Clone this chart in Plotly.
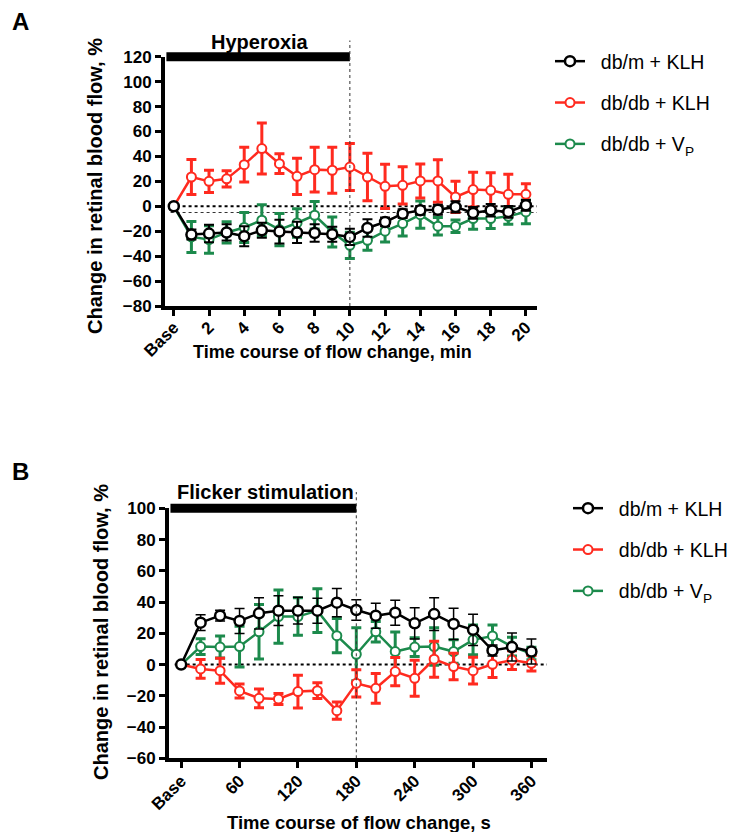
import plotly.graph_objects as go

# ---------------- Panel A data (minutes) ----------------
a_x = list(range(0, 21))
a_tickvals = list(range(0, 21, 2))
a_ticktext = ["Base"] + [str(v) for v in range(2, 21, 2)]

a_black = [0, -22.7, -21.9, -21, -24, -19.3, -20.3, -21, -21.4, -22.5, -24.6,
           -17.4, -12.6, -5.9, -3.2, -2.7, -0.5, -5.3, -3.2, -4.5, 0.8]
a_black_err = [0, 4, 7, 6.5, 8, 6, 9.5, 8.5, 7, 6, 6.5, 7, 3.5, 3.5, 3.5, 4, 4.5, 4.7, 5, 4.7, 4.3]

a_red = [0, 23.5, 20, 22, 33.4, 46.3, 34.2, 24, 29.4, 28.9, 31.5,
         23.5, 16, 16.8, 20.3, 20.3, 7.5, 13.4, 12.8, 9.6, 9.6]
a_red_err = [0, 14, 9, 6.5, 14, 20.5, 8, 14.6, 18, 18.5, 18.8,
             19, 17.7, 15, 13.6, 17, 12.5, 14, 14, 16, 8.5]

a_green = [0, -24.6, -26.7, -21, -17, -11.2, -18.7, -13.4, -7.2, -20.6, -31.3,
           -27.3, -20, -13.9, -6.7, -16, -16, -9.9, -9.9, -8, -4.5]
a_green_err = [0, 12.4, 11, 8.5, 12, 12.5, 13, 11.4, 11, 12, 10.5,
               8, 8.7, 10, 11, 7, 5, 8.5, 8, 6.5, 9.5]

# ---------------- Panel B data (seconds) ----------------
b_x = list(range(0, 361, 20))
b_tickvals = [0, 60, 120, 180, 240, 300, 360]
b_ticktext = ["Base", "60", "120", "180", "240", "300", "360"]

b_black = [0, 26.8, 31.3, 27.9, 32.8, 34.5, 34.5, 34.5, 39.6, 34.9,
           31.3, 33.2, 26.4, 32.3, 26, 22.2, 9, 11.2, 8.3]
b_black_err = [0, 5, 3.5, 8, 10, 9.5, 8.5, 8, 9, 6.5,
               8, 8, 10, 10.5, 10, 10, 3.5, 9, 8]

b_red = [0, -2.8, -3.9, -16.9, -21.6, -22, -17.3, -16.7, -29.5, -12,
         -15.2, -4.5, -8.8, 3.4, -1.3, -3.9, 0.2, 2.9, 0.8]
b_red_err = [0, 6, 8, 4.5, 6, 3.5, 10.5, 5, 5.5, 8.7,
             9.5, 9, 11.5, 11.5, 8.5, 8.5, 8.5, 6, 5]

b_green = [0, 11.5, 11.2, 11.5, 21, 30.7, 30.7, 34.5, 18.5, 6.6,
           21, 8.3, 11.2, 11.5, 8.3, 15.8, 18.3, 11.5, 7]
b_green_err = [0, 5, 7, 13, 17.5, 17, 12, 14, 11, 17,
               6.5, 12.5, 6, 12, 7.5, 9.5, 7, 6, 4]

names = ["&nbsp;&nbsp;db/m + KLH", "&nbsp;&nbsp;db/db + KLH", "&nbsp;&nbsp;db/db + V<sub>P</sub>"]
BLACK = "#000000"
RED = "#ff2a1f"
GREEN = "#1c8a4c"
FONT = "Liberation Sans, Arial, sans-serif"

# page body has an 8px margin; figure sized so the page fits the 742x840 window
OFF = 8
W, H = 742 - 2 * OFF, 840 - 2 * OFF


def X(px):
    return (px - OFF) / W


def Y(py):
    return 1 - (py - OFF) / H


fig = go.Figure()


def add_series(x, y, err, color, name, rank, xa, ya, legend, ethick, ewidth, msize, mline):
    fig.add_trace(go.Scatter(
        x=x, y=y, mode="lines+markers", name=name,
        line=dict(color=color, width=2.5),
        marker=dict(symbol="circle", size=msize, color="white",
                    line=dict(color=color, width=mline)),
        error_y=dict(type="data", array=err, visible=True, color=color,
                     thickness=ethick, width=ewidth),
        xaxis=xa, yaxis=ya, legend=legend, legendrank=rank,
        legendgroup=legend + name,
    ))


# Panel A
add_series(a_x, a_green, a_green_err, GREEN, names[2], 3, "x", "y", "legend", 3, 5, 9, 2)
add_series(a_x, a_red, a_red_err, RED, names[1], 2, "x", "y", "legend", 3, 5, 9, 2)
add_series(a_x, a_black, a_black_err, BLACK, names[0], 1, "x", "y", "legend", 2, 5, 10, 2.5)
# Panel B
add_series(b_x, b_green, b_green_err, GREEN, names[2], 3, "x2", "y2", "legend2", 3, 5, 9, 2)
add_series(b_x, b_red, b_red_err, RED, names[1], 2, "x2", "y2", "legend2", 3, 5, 9, 2)
add_series(b_x, b_black, b_black_err, BLACK, names[0], 1, "x2", "y2", "legend2", 1.5, 5, 10, 2.5)

axis_common = dict(showgrid=False, zeroline=False, showline=True, linecolor="black",
                   linewidth=4, ticks="outside", ticklen=6, tickwidth=3, tickcolor="black",
                   automargin=False,
                   tickfont=dict(family=FONT, size=17, color="black", weight="bold"))

fig.update_layout(
    width=W, height=H,
    margin=dict(l=0, r=0, t=0, b=0, autoexpand=False),
    paper_bgcolor="white", plot_bgcolor="white",
    font=dict(family=FONT, color="black"),
    xaxis=dict(domain=[X(165), X(537)], range=[-0.5, 20.63], tickvals=a_tickvals,
               ticktext=a_ticktext, tickangle=-45, anchor="y", ticklabelstandoff=-5,
               **axis_common),
    yaxis=dict(domain=[Y(306), Y(56.7)], range=[-80, 120], dtick=20,
               tick0=0, anchor="x", **axis_common),
    xaxis2=dict(domain=[X(169), X(547)], range=[-12.5, 376], tickvals=b_tickvals,
                ticktext=b_ticktext, tickangle=-45, anchor="y2", ticklabelstandoff=-4,
                **axis_common),
    yaxis2=dict(domain=[Y(758.3), Y(508.3)], range=[-60, 100], dtick=20,
                tick0=0, anchor="x2", **axis_common),
    legend=dict(x=X(550), y=Y(42), xanchor="left", yanchor="top",
                font=dict(family=FONT, size=19.5, color="black"),
                tracegroupgap=13, bgcolor="rgba(0,0,0,0)"),
    legend2=dict(x=X(568), y=Y(489), xanchor="left", yanchor="top",
                 font=dict(family=FONT, size=19.5, color="black"),
                 tracegroupgap=13, bgcolor="rgba(0,0,0,0)"),
    showlegend=True,
)

shapes = [
    # Panel A: stimulus bar, vertical dotted marker, zero lines
    dict(type="line", xref="x", yref="y domain", x0=-0.42, x1=10, y0=1, y1=1,
         line=dict(color="black", width=9)),
    dict(type="line", xref="x", yref="y domain", x0=10, x1=10, y0=0, y1=1.065,
         line=dict(color="#333333", width=1, dash="dot")),
    dict(type="line", xref="x domain", yref="y", x0=0.015, x1=1, y0=0, y1=0,
         line=dict(color="black", width=2, dash="dot"), layer="below"),
    dict(type="line", xref="x domain", yref="y", x0=0.015, x1=1, y0=-5, y1=-5,
         line=dict(color="#333333", width=1, dash="dot"), layer="below"),
    # Panel B
    dict(type="line", xref="x2", yref="y2 domain", x0=-11, x1=180, y0=1, y1=1,
         line=dict(color="black", width=9)),
    dict(type="line", xref="x2", yref="y2 domain", x0=180, x1=180, y0=0, y1=1.065,
         line=dict(color="#333333", width=1, dash="dot")),
    dict(type="line", xref="x2 domain", yref="y2", x0=0.015, x1=1, y0=0, y1=0,
         line=dict(color="black", width=2, dash="dot"), layer="below"),
]
fig.update_layout(shapes=shapes)

bold = dict(family=FONT, color="black", weight="bold")
ann = [
    dict(text="A", x=X(10), y=Y(21), font=dict(size=24, **bold)),
    dict(text="B", x=X(10), y=Y(471), font=dict(size=24, **bold)),
    dict(text="Hyperoxia", x=X(260), y=Y(42), font=dict(size=20, **bold)),
    dict(text="Flicker stimulation", x=X(265), y=Y(492), font=dict(size=20, **bold)),
    dict(text="Change in retinal blood flow, %", x=X(95), y=Y(186), textangle=-90,
         font=dict(size=20, **bold)),
    dict(text="Change in retinal blood flow, %", x=X(101), y=Y(632), textangle=-90,
         font=dict(size=20, **bold)),
    dict(text="Time course of flow change, min", x=X(332), y=Y(352),
         font=dict(size=18, **bold)),
    dict(text="Time course of flow change, s", x=X(359), y=Y(822),
         font=dict(size=18.5, **bold)),
]
for a in ann:
    a.update(xref="paper", yref="paper", showarrow=False, xanchor="center",
             yanchor="middle")
    if a["text"] in ("A", "B"):
        a["xanchor"] = "left"
fig.update_layout(annotations=ann)

fig.write_html("out.html")
